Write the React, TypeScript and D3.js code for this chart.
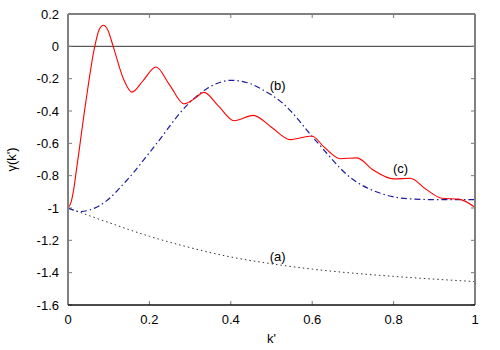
import React from "react";
import * as d3 from "d3";

// curve (a): dotted
const kA = [0, 0.1, 0.2, 0.3, 0.4, 0.5, 0.6, 0.7, 0.8, 0.9, 1];
const gammaA = [-1, -1.09, -1.175, -1.245, -1.303, -1.345, -1.378, -1.403, -1.423, -1.44, -1.455];

// curve (b): dash-dot
const kB = [0, 0.03, 0.087, 0.144, 0.218, 0.292, 0.341, 0.402, 0.447, 0.472, 0.529, 0.611, 0.693, 0.775, 0.833, 0.9, 1];
const gammaB = [-1, -1.022, -0.97, -0.83, -0.6, -0.365, -0.262, -0.21, -0.23, -0.26, -0.355, -0.59, -0.81, -0.915, -0.942, -0.948, -0.948];

// curve (c): solid red
const kC = [0, 0.008, 0.013, 0.021, 0.044, 0.065, 0.076, 0.087, 0.098, 0.111, 0.136, 0.157, 0.185, 0.216, 0.25, 0.285, 0.31, 0.334, 0.37, 0.408, 0.455, 0.5, 0.546, 0.599, 0.63, 0.669, 0.71, 0.75, 0.8, 0.841, 0.88, 0.919, 0.96, 1];
const gammaC = [-1, -0.96, -0.9, -0.76, -0.34, -0.01, 0.1, 0.13, 0.1, 0.0, -0.2, -0.283, -0.21, -0.128, -0.24, -0.355, -0.325, -0.285, -0.37, -0.46, -0.427, -0.5, -0.577, -0.555, -0.625, -0.695, -0.69, -0.765, -0.82, -0.816, -0.885, -0.94, -0.945, -0.995];

const xTicks = [0, 0.2, 0.4, 0.6, 0.8, 1];
const yTicks = [0.2, 0, -0.2, -0.4, -0.6, -0.8, -1, -1.2, -1.4, -1.6];

const labels = [
  { text: "(a)", k: 0.515, g: -1.30 },
  { text: "(b)", k: 0.515, g: -0.245 },
  { text: "(c)", k: 0.817, g: -0.755 },
];

const W = 500;
const H = 350;
const m = { left: 68, right: 25, top: 14, bottom: 45 };

export default function App() {
  const x = d3.scaleLinear().domain([0, 1]).range([m.left, W - m.right]);
  const y = d3.scaleLinear().domain([-1.6, 0.2]).range([H - m.bottom, m.top]);

  const line = (ks: number[], gs: number[], curve: d3.CurveFactory) =>
    d3
      .line<number>()
      .x((_, i) => x(ks[i]))
      .y((d) => y(d))
      .curve(curve)(gs) || "";

  const font = "'Liberation Sans', Arial, sans-serif";
  const x0 = m.left;
  const x1 = W - m.right;
  const y0 = H - m.bottom;
  const y1 = m.top;

  return (
    <svg
      width={W}
      height={H}
      style={{ position: "absolute", left: 0, top: 0, background: "#fff" }}
      fontFamily={font}
      fontSize={13}
    >
      {/* zero line */}
      <line x1={x0} x2={x1} y1={y(0)} y2={y(0)} stroke="#333" strokeWidth={1} />

      {/* ticks */}
      {yTicks.map((t) => (
        <g key={"y" + t}>
          <line x1={x0} x2={x0 + 4} y1={y(t)} y2={y(t)} stroke="#777" />
          <line x1={x1 - 4} x2={x1} y1={y(t)} y2={y(t)} stroke="#777" />
          <text x={x0 - 9} y={y(t)} dy="0.35em" textAnchor="end" fill="#000">
            {t}
          </text>
        </g>
      ))}
      {xTicks.map((t) => (
        <g key={"x" + t}>
          <line x1={x(t)} x2={x(t)} y1={y0} y2={y0 - 4} stroke="#777" />
          <line x1={x(t)} x2={x(t)} y1={y1} y2={y1 + 4} stroke="#777" />
          <text x={x(t)} y={y0 + 19} textAnchor="middle" fill="#000">
            {t}
          </text>
        </g>
      ))}

      {/* curves */}
      <path d={line(kA, gammaA, d3.curveMonotoneX)} fill="none" stroke="#333" strokeWidth={1} strokeDasharray="1.5,3" />
      <path d={line(kB, gammaB, d3.curveMonotoneX)} fill="none" stroke="#1c1ca0" strokeWidth={1.2} strokeDasharray="6,3,1.5,3" />
      <path d={line(kC, gammaC, d3.curveMonotoneX)} fill="none" stroke="#ff0000" strokeWidth={1.1} />

      {labels.map((l) => (
        <text key={l.text} x={x(l.k)} y={y(l.g)} dy="0.35em" textAnchor="middle" fill="#000">
          {l.text}
        </text>
      ))}

      {/* frame */}
      <line x1={x0} x2={x1} y1={y1} y2={y1} stroke="#808080" strokeWidth={2} />
      <line x1={x0} x2={x0} y1={y1} y2={y0} stroke="#808080" strokeWidth={2} />
      <line x1={x1} x2={x1} y1={y1} y2={y0} stroke="#808080" strokeWidth={2} />
      <line x1={x0} x2={x1} y1={y0} y2={y0} stroke="#111" strokeWidth={1.5} />

      {/* axis titles */}
      <text x={(x0 + x1) / 2} y={H - 7} textAnchor="middle" fill="#000">
        k'
      </text>
      <text
        transform={`translate(16,${(y0 + y1) / 2}) rotate(-90)`}
        textAnchor="middle"
        fill="#000"
      >
        γ(k')
      </text>
    </svg>
  );
}
